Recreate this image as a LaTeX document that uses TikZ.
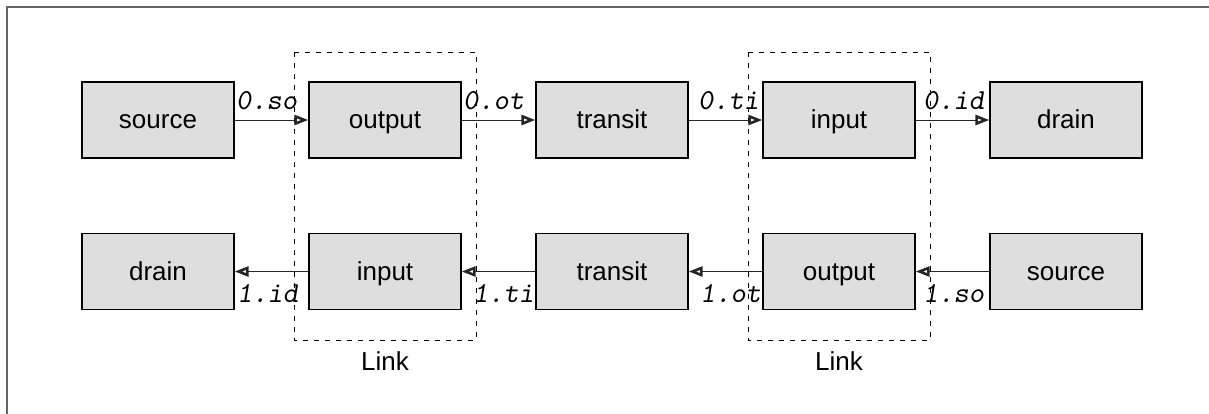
\documentclass[tikz,border=0pt]{standalone}
\usepackage{fontspec}
\setmainfont{Liberation Sans}
\usetikzlibrary{arrows.meta}
\definecolor{boxfill}{HTML}{DEDEDE}
\tikzset{
  blk/.style={draw=black, line width=1.3pt, fill=boxfill, minimum width=152pt, minimum height=76pt, inner sep=0pt, text height=17pt, text depth=0pt, font=\fontsize{26}{30}\selectfont},
  conn/.style={draw=black!85, line width=1pt, -{Triangle[open,length=14pt,width=10pt,line width=2.6pt]}},
  lbl/.style={inner sep=0pt, anchor=base west, font=\ttfamily\slshape\fontsize{29}{32}\selectfont},
  linkbox/.style={draw=black, line width=0.9pt, dash pattern=on 5pt off 6pt},
  linklbl/.style={inner sep=0pt, anchor=base, font=\fontsize{26}{30}\selectfont}
}
\begin{document}
\begin{tikzpicture}[x=1pt,y=-1pt]
\useasboundingbox (0,0) rectangle (1209,413);
\draw[draw=black!60, line width=2pt] (7,420) -- (7,7) -- (1220,7);
% dashed link boxes
\draw[linkbox] (294,52) rectangle (476,340);
\draw[linkbox] (748,52) rectangle (930,340);
\node[linklbl] (L1) at (385,370) {Link};
\node[linklbl] (L2) at (839,370) {Link};
% top row
\node[blk] (a1) at (158,120) {source};
\node[blk] (a2) at (385,120) {output};
\node[blk] (a3) at (612,120) {transit};
\node[blk] (a4) at (839,120) {input};
\node[blk] (a5) at (1066,120) {drain};
% bottom row
\node[blk] (b1) at (158,271.5) {drain};
\node[blk] (b2) at (385,271.5) {input};
\node[blk] (b3) at (612,271.5) {transit};
\node[blk] (b4) at (839,271.5) {output};
\node[blk] (b5) at (1066,271.5) {source};
% connectors
\draw[conn] (a1.east) -- (a2.west);
\draw[conn] (a2.east) -- (a3.west);
\draw[conn] (a3.east) -- (a4.west);
\draw[conn] (a4.east) -- (a5.west);
\draw[conn] (b5.west) -- (b4.east);
\draw[conn] (b4.west) -- (b3.east);
\draw[conn] (b3.west) -- (b2.east);
\draw[conn] (b2.west) -- (b1.east);
% labels
\node[lbl] (t1) at (236,109) {0.so};
\node[lbl] (t2) at (463,109) {0.ot};
\node[lbl] (t3) at (698,109) {0.ti};
\node[lbl] (t4) at (923,109) {0.id};
\node[lbl] (u1) at (237,302) {1.id};
\node[lbl] (u2) at (473,302) {1.ti};
\node[lbl] (u3) at (700,302) {1.ot};
\node[lbl] (u4) at (923,302) {1.so};
\end{tikzpicture}
\end{document}
